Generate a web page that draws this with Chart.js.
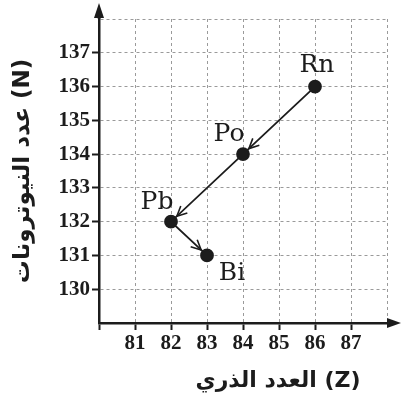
<!DOCTYPE html>
<html>
<head>
<meta charset="utf-8">
<script src="https://cdn.jsdelivr.net/npm/chart.js@4.4.1/dist/chart.umd.min.js"></script>
<style>
    body { margin: 0; background: #fff; }
    #wrap { width: 402px; height: 404px; }
</style>
</head>
<body>
<div id="wrap"><canvas id="chart" width="402" height="404"></canvas></div>
<script>
// decay chain Rn -> Po -> Pb -> Bi
const elements = ['Rn', 'Po', 'Pb', 'Bi'];
const atomicNumbers = [86, 84, 82, 83];
const neutronNumbers = [136, 134, 132, 131];
const xTicks = [81, 82, 83, 84, 85, 86, 87];
const yTicks = [130, 131, 132, 133, 134, 135, 136, 137];

const ink = '#1c1c1c';
const gridGrey = '#9a9a9a';

// where each element name sits relative to its dot
const labelOffsets = { Rn: [2, -21], Po: [-14, -20], Pb: [-14, -19], Bi: [25, 18] };

const decorations = {
    id: 'decorations',
    afterDraw(chart) {
        const ctx = chart.ctx;
        const area = chart.chartArea;
        const xs = chart.scales.x, ys = chart.scales.y;
        ctx.save();

        // axis arrows
        ctx.strokeStyle = ink;
        ctx.fillStyle = ink;
        ctx.lineWidth = 2.5;
        ctx.beginPath();
        ctx.moveTo(area.left, area.top);
        ctx.lineTo(area.left, 12);
        ctx.moveTo(area.right, area.bottom);
        ctx.lineTo(394, area.bottom);
        ctx.stroke();
        ctx.beginPath();
        ctx.moveTo(area.left, 3);
        ctx.lineTo(area.left - 5, 18);
        ctx.lineTo(area.left + 5, 18);
        ctx.closePath();
        ctx.fill();
        ctx.beginPath();
        ctx.moveTo(401, area.bottom);
        ctx.lineTo(387, area.bottom - 5);
        ctx.lineTo(387, area.bottom + 5);
        ctx.closePath();
        ctx.fill();

        // arrowheads on the decay path
        const pts = atomicNumbers.map((z, i) => [xs.getPixelForValue(z), ys.getPixelForValue(neutronNumbers[i])]);
        ctx.lineWidth = 1.6;
        for (let i = 0; i < pts.length - 1; i++) {
            const [x0, y0] = pts[i], [x1, y1] = pts[i + 1];
            const a = Math.atan2(y1 - y0, x1 - x0);
            const tx = x1 - 8 * Math.cos(a), ty = y1 - 8 * Math.sin(a);
            ctx.beginPath();
            ctx.moveTo(tx - 11 * Math.cos(a - 0.45), ty - 11 * Math.sin(a - 0.45));
            ctx.lineTo(tx, ty);
            ctx.lineTo(tx - 11 * Math.cos(a + 0.45), ty - 11 * Math.sin(a + 0.45));
            ctx.stroke();
        }

        // element names
        ctx.font = '25px "DejaVu Serif"';
        ctx.textAlign = 'center';
        ctx.textBaseline = 'middle';
        elements.forEach((el, i) => {
            const [dx, dy] = labelOffsets[el];
            ctx.fillText(el, pts[i][0] + dx, pts[i][1] + dy);
        });

        // x axis title
        ctx.font = 'bold 22px "DejaVu Sans"';
        ctx.fillText('العدد الذري (Z)', 278, 381);
        ctx.restore();
    }
};

const hideEdgeTick = (list) => (c) => list.includes(c.tick && c.tick.value) ? ink : 'rgba(0,0,0,0)';

new Chart(document.getElementById('chart'), {
    type: 'scatter',
    data: {
        datasets: [{
            data: atomicNumbers.map((z, i) => ({ x: z, y: neutronNumbers[i] })),
            showLine: true,
            borderColor: ink,
            borderWidth: 1.8,
            pointRadius: 6,
            pointBackgroundColor: ink,
            pointBorderColor: ink
        }]
    },
    options: {
        responsive: false,
        animation: false,
        layout: { padding: { top: 19, right: 15, left: 0, bottom: 0 } },
        plugins: {
            legend: { display: false },
            tooltip: { enabled: false }
        },
        scales: {
            x: {
                type: 'linear',
                min: 80,
                max: 88,
                afterFit: (s) => { s.height = 81; },
                ticks: {
                    stepSize: 1,
                    autoSkip: false,
                    maxRotation: 0,
                    padding: 1,
                    color: ink,
                    font: { family: '"Liberation Serif"', size: 21, weight: 'bold' },
                    callback: (v) => xTicks.includes(v) ? v : ''
                },
                grid: {
                    color: gridGrey,
                    lineWidth: 1,
                    tickLength: 7,
                    tickColor: hideEdgeTick([80].concat(xTicks)),
                    tickWidth: 2,
                    tickBorderDash: []
                },
                border: { display: true, color: ink, width: 2.5, dash: [3, 3] }
            },
            y: {
                type: 'linear',
                min: 129,
                max: 138,
                afterFit: (s) => { s.width = 99; },
                ticks: {
                    stepSize: 1,
                    autoSkip: false,
                    padding: 2,
                    color: ink,
                    font: { family: '"Liberation Serif"', size: 21, weight: 'bold' },
                    callback: (v) => yTicks.includes(v) ? v : ''
                },
                grid: {
                    color: gridGrey,
                    lineWidth: 1,
                    tickLength: 7,
                    tickColor: hideEdgeTick(yTicks),
                    tickWidth: 2,
                    tickBorderDash: []
                },
                border: { display: true, color: ink, width: 2.5, dash: [3, 3] },
                title: {
                    display: true,
                    text: 'عدد النيوترونات (N)',
                    color: ink,
                    font: { family: '"DejaVu Sans"', size: 23, weight: 'bold' },
                    padding: { top: 9, bottom: 0 }
                }
            }
        }
    },
    plugins: [decorations]
});
</script>
</body>
</html>
